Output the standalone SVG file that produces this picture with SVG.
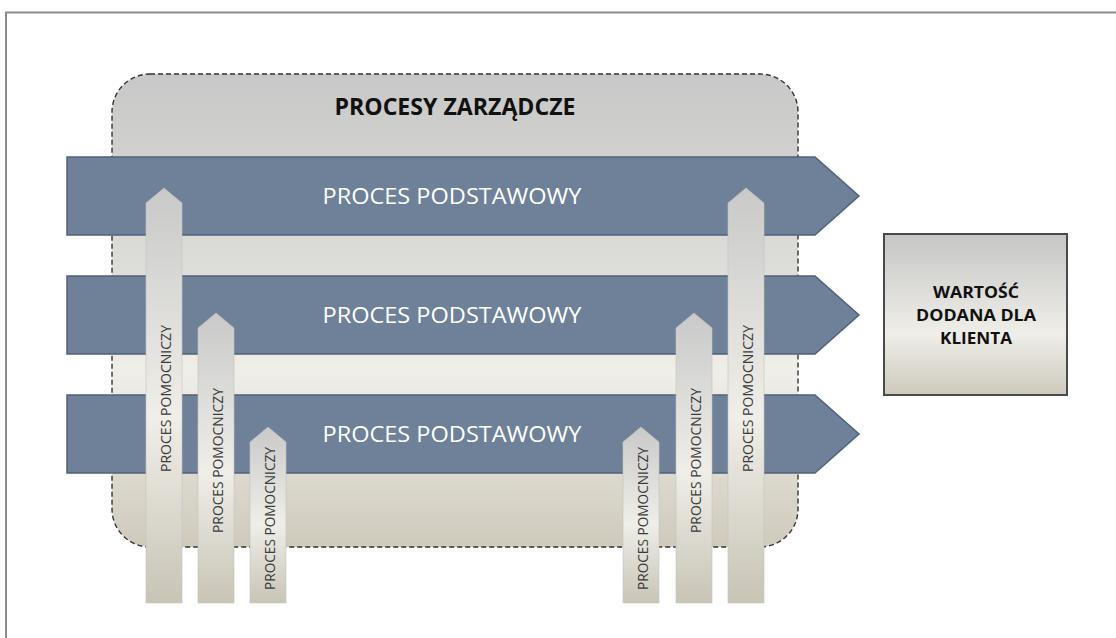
<svg xmlns="http://www.w3.org/2000/svg" width="1116" height="638" viewBox="0 0 1116 638">
  <defs>
    <linearGradient id="gradMgmt" x1="0" y1="0" x2="0" y2="1">
      <stop offset="0" stop-color="#c8c8c8"/>
      <stop offset="0.4" stop-color="#dcdcd8"/>
      <stop offset="0.63" stop-color="#efeee8"/>
      <stop offset="1" stop-color="#cfcabc"/>
    </linearGradient>
    <linearGradient id="gradSupport" x1="0" y1="0" x2="0" y2="1">
      <stop offset="0" stop-color="#c9c9c9"/>
      <stop offset="0.55" stop-color="#efeee8"/>
      <stop offset="1" stop-color="#c8c4b6"/>
    </linearGradient>
    <linearGradient id="gradValue" x1="0" y1="0" x2="0" y2="1">
      <stop offset="0" stop-color="#c6c6c6"/>
      <stop offset="0.62" stop-color="#efeee8"/>
      <stop offset="1" stop-color="#cdc9bc"/>
    </linearGradient>
    <style>
      .frame { fill: none; stroke: #8a8a8a; stroke-width: 2; }
      .mgmt { fill: url(#gradMgmt); stroke: #333333; stroke-width: 1.4; stroke-dasharray: 5 3; }
      .core { fill: #6e8199; stroke: #50627a; stroke-width: 1.5; }
      .support { fill: url(#gradSupport); stroke: #c2c2bc; stroke-width: 0.6; }
      .value { fill: url(#gradValue); stroke: #4a4a4a; stroke-width: 2; }
      .title { font-family: "Open Sans", "Liberation Sans", sans-serif; font-weight: 700; font-size: 23px; fill: #111111; text-anchor: middle; }
      .coreText { font-family: "Open Sans", "Liberation Sans", sans-serif; font-size: 22.5px; fill: #ffffff; text-anchor: middle; }
      .supText { font-family: "Open Sans", "Liberation Sans", sans-serif; font-size: 15px; fill: #3c3c3c; text-anchor: middle; }
      .valText { font-family: "Open Sans", "Liberation Sans", sans-serif; font-weight: 700; font-size: 16.5px; fill: #111111; text-anchor: middle; }
    </style>
  </defs>

  <!-- page frame -->
  <path class="frame" d="M6,638 V12.5 H1116"/>

  <!-- management processes container -->
  <g id="procesy-zarzadcze">
    <rect class="mgmt" x="112" y="74" width="686" height="473" rx="38" ry="38"/>
    <text class="title" x="455" y="115" textLength="241" lengthAdjust="spacingAndGlyphs">PROCESY ZARZĄDCZE</text>
  </g>

  <!-- core process bands -->
  <g id="proces-podstawowy-1">
    <polygon class="core" points="67,157 815,157 859,196 815,235 67,235"/>
    <text class="coreText" x="452" y="204" textLength="259" lengthAdjust="spacingAndGlyphs">PROCES PODSTAWOWY</text>
  </g>
  <g id="proces-podstawowy-2">
    <polygon class="core" points="67,276 815,276 859,315 815,354 67,354"/>
    <text class="coreText" x="452" y="323" textLength="259" lengthAdjust="spacingAndGlyphs">PROCES PODSTAWOWY</text>
  </g>
  <g id="proces-podstawowy-3">
    <polygon class="core" points="67,395 815,395 859,434 815,473 67,473"/>
    <text class="coreText" x="452" y="442" textLength="259" lengthAdjust="spacingAndGlyphs">PROCES PODSTAWOWY</text>
  </g>

  <!-- supporting process arrows -->
  <g id="proces-pomocniczy-1">
    <polygon class="support" points="146,203 164,188 182,203 182,603 146,603"/>
    <text class="supText" transform="translate(170.5,398.5) rotate(-90)" textLength="147" lengthAdjust="spacingAndGlyphs">PROCES POMOCNICZY</text>
  </g>
  <g id="proces-pomocniczy-2">
    <polygon class="support" points="198,328 216,313 234,328 234,603 198,603"/>
    <text class="supText" transform="translate(222.5,460.5) rotate(-90)" textLength="145" lengthAdjust="spacingAndGlyphs">PROCES POMOCNICZY</text>
  </g>
  <g id="proces-pomocniczy-3">
    <polygon class="support" points="250,442 268,427 286,442 286,603 250,603"/>
    <text class="supText" transform="translate(274.5,518.5) rotate(-90)" textLength="143" lengthAdjust="spacingAndGlyphs">PROCES POMOCNICZY</text>
  </g>
  <g id="proces-pomocniczy-4">
    <polygon class="support" points="623,442 641,427 659,442 659,603 623,603"/>
    <text class="supText" transform="translate(647.5,518.5) rotate(-90)" textLength="143" lengthAdjust="spacingAndGlyphs">PROCES POMOCNICZY</text>
  </g>
  <g id="proces-pomocniczy-5">
    <polygon class="support" points="676,328 694,313 712,328 712,603 676,603"/>
    <text class="supText" transform="translate(700.5,460.5) rotate(-90)" textLength="145" lengthAdjust="spacingAndGlyphs">PROCES POMOCNICZY</text>
  </g>
  <g id="proces-pomocniczy-6">
    <polygon class="support" points="728,203 746,188 764,203 764,603 728,603"/>
    <text class="supText" transform="translate(752.5,398.5) rotate(-90)" textLength="147" lengthAdjust="spacingAndGlyphs">PROCES POMOCNICZY</text>
  </g>

  <!-- customer value box -->
  <g id="wartosc-dla-klienta">
    <rect class="value" x="884" y="234" width="183" height="161"/>
    <text class="valText" x="976" y="298" textLength="86" lengthAdjust="spacingAndGlyphs">WARTOŚĆ</text>
    <text class="valText" x="976" y="321" textLength="120" lengthAdjust="spacingAndGlyphs">DODANA DLA</text>
    <text class="valText" x="976" y="344" textLength="72" lengthAdjust="spacingAndGlyphs">KLIENTA</text>
  </g>

  <!-- no separate connectors: arrows are drawn as shapes above -->
  <g id="connectors"/>
</svg>
